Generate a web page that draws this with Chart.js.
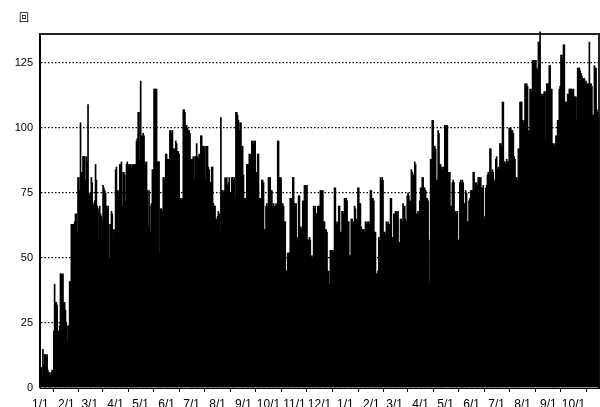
<!DOCTYPE html>
<html>
<head>
<meta charset="utf-8">
<script src="https://cdn.jsdelivr.net/npm/chart.js@4"></script>
<style>
  html, body { margin: 0; padding: 0; background: #fff; }
  #box { width: 600px; height: 407px; }
</style>
</head>
<body>
<div id="box"><canvas id="daily" width="600" height="407"></canvas></div>
<script>
// daily counts (回), one array per month
const y1Jan = [6,8,4,15,9,13,13,12,13,7,6,6,5,6,7,6,22,40,33,33,32,18,22,24,44,44,43,44,33,33,30];
const y1Feb = [25,18,24,24,41,41,63,63,55,63,64,67,67,60,81,81,76,102,83,83,89,89,89,80,89,87,109,75];
const y1Mar = [74,75,81,79,71,70,72,86,80,70,69,57,70,67,66,64,78,77,76,75,70,69,70,63,50,63,68,67,61,58,61];
const y1Apr = [84,85,76,74,76,86,86,87,70,83,83,82,72,86,87,86,75,86,86,85,86,86,78,86,86,95,96,106,106,88];
const y1May = [118,97,97,98,97,87,86,87,76,62,76,70,60,71,84,84,115,115,115,115,87,87,87,52,69,69,68,81,81,80,90];
const y1Jun = [90,88,88,87,99,99,98,99,92,92,91,95,94,91,91,90,73,73,72,73,107,107,106,101,101,100,99,99,98,88];
const y1Jul = [88,88,89,80,89,89,94,89,88,90,89,97,97,93,93,92,93,80,93,93,85,84,79,79,85,85,71,70,70,65,65];
const y1Aug = [66,68,67,60,104,76,76,75,76,81,80,81,78,79,81,74,75,81,81,80,81,73,106,106,105,103,99,102,102,93,93];
const y1Sep = [82,73,73,60,86,86,86,90,89,90,95,95,94,95,95,83,83,90,90,73,73,65,80,80,79,61,61,70,71,70];
const y1Oct = [81,81,81,76,76,70,71,70,70,71,70,95,95,81,81,81,70,71,70,64,64,45,45,52,52,52,73,73,72,81,81];
const y1Nov = [71,71,71,58,57,74,74,62,61,62,72,72,78,78,77,78,57,57,58,57,50,51,50,70,69,70,67,66,70,70];
const y1Dec = [70,76,76,75,76,64,64,61,61,60,45,45,40,53,53,53,53,52,77,77,63,64,63,70,70,60,60,68,68,67,73];
const y2Jan = [73,73,72,64,64,51,51,65,65,64,63,70,69,65,64,77,77,71,71,62,61,61,61,60,64,63,64,63,64,63,76];
const y2Feb = [76,73,73,72,60,60,44,44,45,58,57,81,80,81,80,60,60,59,64,63,64,63,63,73,73,58,57,67];
const y2Mar = [67,68,68,67,68,56,56,65,65,64,71,70,70,65,64,74,75,74,72,72,84,83,82,82,87,86,67,67,68,67,72];
const y2Apr = [77,77,81,81,77,77,76,73,73,72,57,41,88,88,103,103,93,93,92,80,80,99,98,86,86,85,84,85,84,101];
const y2May = [101,101,101,83,83,83,70,70,79,80,79,68,68,67,68,57,57,79,80,79,80,79,71,71,76,75,64,64,72,73,76];
const y2Jun = [76,76,83,83,76,79,79,78,81,81,80,81,77,77,78,65,66,77,78,82,83,82,92,92,83,84,83,79,80,88];
const y2Jul = [89,84,85,84,94,94,93,110,110,87,87,86,88,87,87,100,100,100,99,99,98,89,88,81,81,80,92,92,110,110,110];
const y2Aug = [103,102,103,117,117,117,116,99,99,115,115,114,126,126,126,125,126,123,122,133,133,137,113,113,112,113,114,95,114,117,117];
const y2Sep = [117,124,124,115,115,94,94,93,94,97,97,103,103,115,116,128,128,127,132,132,110,110,110,113,113,115,115,115,115,114];
const y2Oct = [115,112,112,112,103,123,123,123,122,121,120,119,119,119,117,118,117,117,117,133,117,117,116,105,105,124,123,123,107,106,104];

const months = [y1Jan, y1Feb, y1Mar, y1Apr, y1May, y1Jun, y1Jul, y1Aug, y1Sep, y1Oct, y1Nov, y1Dec,
                y2Jan, y2Feb, y2Mar, y2Apr, y2May, y2Jun, y2Jul, y2Aug, y2Sep, y2Oct];
const monthNums = [1,2,3,4,5,6,7,8,9,10,11,12,1,2,3,4,5,6,7,8,9,10];
const yTicks = [0, 25, 50, 75, 100, 125];
const yMax = 136;
const unitLabel = '回';

// labels "M/D" for every day, values flattened
const labels = [];
const counts = [];
months.forEach((m, i) => {
  m.forEach((v, d) => {
    labels.push(monthNums[i] + '/' + (d + 1));
    counts.push(v);
  });
});

const frame = {
  id: 'frame',
  beforeDatasetsDraw(chart) {
    const { ctx, chartArea: a } = chart;
    ctx.save();
    ctx.strokeStyle = '#222';
    ctx.lineWidth = 2;
    ctx.beginPath();
    ctx.moveTo(a.left, a.top);
    ctx.lineTo(a.right, a.top);
    ctx.lineTo(a.right, a.bottom);
    ctx.stroke();
    ctx.restore();
  },
  afterDraw(chart) {
    const ctx = chart.ctx;
    ctx.save();
    ctx.fillStyle = '#000';
    ctx.font = '10px "Noto Sans CJK JP"';
    ctx.textAlign = 'center';
    ctx.textBaseline = 'middle';
    ctx.fillText(unitLabel, 24, 17);
    ctx.restore();
  }
};

new Chart(document.getElementById('daily'), {
  type: 'bar',
  data: {
    labels: labels,
    datasets: [{
      data: counts,
      backgroundColor: '#000',
      borderWidth: 0,
      barPercentage: 2,
      categoryPercentage: 1,
      clip: false
    }]
  },
  options: {
    responsive: false,
    animation: false,
    devicePixelRatio: 1,
    layout: { padding: { top: 34, right: 1, left: 0, bottom: 0 } },
    plugins: { legend: { display: false }, tooltip: { enabled: false }, title: { display: false } },
    scales: {
      x: {
        ticks: {
          autoSkip: false,
          maxRotation: 0,
          padding: 5,
          color: '#000',
          font: { family: '"Liberation Sans", Arial, sans-serif', size: 12 }
        },
        grid: { drawOnChartArea: false, drawTicks: true, tickLength: 4, color: '#000', lineWidth: 1 },
        border: { display: true, color: '#000', width: 1 },
        afterBuildTicks: s => { s.ticks = s.ticks.filter(t => labels[t.value].endsWith('/1')); },
        afterFit: s => { s.height = 19; }
      },
      y: {
        min: 0,
        max: yMax,
        ticks: {
          padding: 7,
          color: '#000',
          font: { family: '"Liberation Sans", Arial, sans-serif', size: 11 }
        },
        grid: {
          drawTicks: false,
          color: c => c.tick && c.tick.value === 0 ? 'rgba(0,0,0,0)' : '#000',
          lineWidth: 1.3
        },
        // dotted horizontal grid lines
        border: { display: true, color: '#000', width: 2, dash: [1.5, 2] },
        afterBuildTicks: s => { s.ticks = yTicks.map(v => ({ value: v })); },
        afterFit: s => { s.width = 40; }
      }
    }
  },
  plugins: [frame]
});
</script>
</body>
</html>
